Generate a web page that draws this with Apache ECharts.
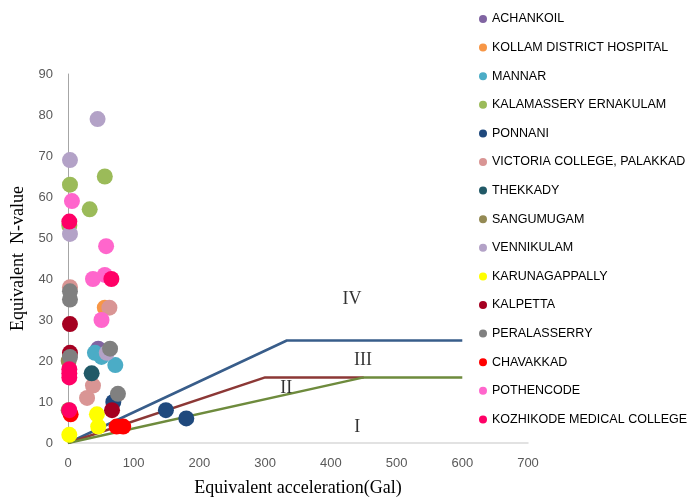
<!DOCTYPE html>
<html>
<head>
<meta charset="utf-8">
<script src="https://cdn.jsdelivr.net/npm/echarts@6/dist/echarts.min.js"></script>
<style>html,body{margin:0;padding:0;background:#fff}#c{width:689px;height:502px}</style>
</head>
<body>
<div id="c"></div>
<script>
var seriesNames = ['ACHANKOIL','KOLLAM DISTRICT HOSPITAL','MANNAR','KALAMASSERY ERNAKULAM','PONNANI','VICTORIA COLLEGE, PALAKKAD','THEKKADY','SANGUMUGAM','VENNIKULAM','KARUNAGAPPALLY','KALPETTA','PERALASSERRY','CHAVAKKAD','POTHENCODE','KOZHIKODE MEDICAL COLLEGE'];
var seriesColors = ['#8064A2','#F79646','#4BACC6','#9BBB59','#1F497D','#D99594','#215967','#948A54','#B3A2C7','#FFFF00','#A50021','#808080','#FF0000','#FF66CC','#FF0066'];
var achankoil = [[46,23]];
var kollam = [[56,33]];
var mannar = [[41,22],[51,21],[72,19]];
var kalamassery = [[3,63],[56,65],[33,57],[2,53]];
var ponnani = [[69,10],[149,8],[180,6]];
var victoria = [[3,38],[63,33],[38,14],[29,11]];
var thekkady = [[36,17]];
var sangumugam = [[1,20],[1,8]];
var vennikulam = [[45,79],[3,69],[3,51],[59,22]];
var karunagappally = [[2,2],[44,7],[46,4]];
var kalpetta = [[3,29],[3,22],[67,8]];
var peralasserry = [[3,37],[3,35],[3,21],[64,23],[76,12]];
var chavakkad = [[4,7],[74,4],[84,4]];
var pothencode = [[6,59],[58,48],[38,40],[56,41],[51,30]];
var kozhikode = [[2,54],[66,40],[2,18],[2,17],[2,16],[2,8]];
var seriesData = [achankoil,kollam,mannar,kalamassery,ponnani,victoria,thekkady,sangumugam,vennikulam,karunagappally,kalpetta,peralasserry,chavakkad,pothencode,kozhikode];

var boundaryIV = [[0,0],[333,25],[600,25]];
var boundaryIII = [[0,0],[300,16],[450,16]];
var boundaryII = [[0,0],[450,16],[600,16]];
var boundaryColors = ['#385D8A','#8C3836','#6E8B3D'];
var zoneLabels = [[432,35,'IV'],[449,20.3,'III'],[332,13.3,'II'],[440,3.8,'I']];

var chart = echarts.init(document.getElementById('c'));
var series = [];
[boundaryIV, boundaryIII, boundaryII].forEach(function(d,i){
  series.push({type:'line', name:'b'+i, data:d, symbol:'none', z:1,
    lineStyle:{color:boundaryColors[i], width:2.5}, silent:true});
});
series.push({type:'scatter', name:'zones', data:zoneLabels.map(function(z){return [z[0],z[1],z[2]];}),
  symbolSize:0, z:1, silent:true,
  label:{show:true, position:'inside', formatter:function(p){return p.data[2];},
    fontFamily:'Liberation Serif', fontSize:18, color:'#000'}});
seriesNames.forEach(function(n,i){
  series.push({type:'scatter', name:n, data:seriesData[i], symbolSize:16, z:3,
    itemStyle:{color:seriesColors[i], opacity:1}});
});

chart.setOption({
  animation:false,
  grid:{left:68, right:161, top:74, bottom:56},
  legend:{data:seriesNames.map(function(n,i){return {name:n, itemStyle:{color:seriesColors[i]}};}),
    orient:'vertical', left:474, top:7, icon:'circle', itemWidth:8, itemHeight:8, itemGap:14.6,
    textStyle:{fontFamily:'Liberation Sans', fontSize:12.5, color:'#000', lineHeight:14}},
  xAxis:{type:'value', min:0, max:700, interval:100,
    name:'Equivalent acceleration(Gal)', nameLocation:'middle', nameGap:36,
    nameTextStyle:{fontFamily:'Liberation Serif', fontSize:18, color:'#000'},
    axisLine:{show:true, lineStyle:{color:'#D9D9D9', width:1.5}}, axisTick:{show:false},
    splitLine:{show:false},
    axisLabel:{fontFamily:'Liberation Sans', fontSize:13, color:'#595959', margin:14}},
  yAxis:{type:'value', min:0, max:90, interval:10,
    name:'Equivalent  N-value', nameLocation:'middle', nameGap:37,
    nameTextStyle:{fontFamily:'Liberation Serif', fontSize:18, color:'#000'},
    axisLine:{show:true, lineStyle:{color:'#A6A6A6', width:1}}, axisTick:{show:false},
    splitLine:{show:false},
    axisLabel:{fontFamily:'Liberation Sans', fontSize:13, color:'#595959', margin:15}},
  series:series
});
</script>
</body>
</html>
